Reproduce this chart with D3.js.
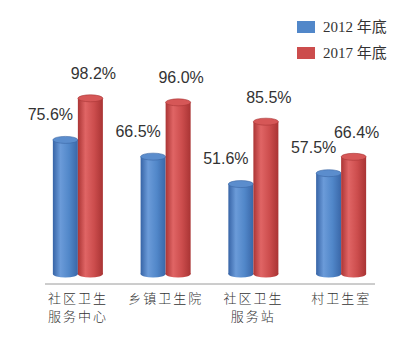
<!DOCTYPE html>
<html>
<head>
<meta charset="utf-8">
<script src="https://cdn.jsdelivr.net/npm/d3@7"></script>
<style>
  body { margin: 0; background: #fff; }
</style>
</head>
<body>
<div id="chart"></div>
<script>
const categories = ['社区卫生服务中心', '乡镇卫生院', '社区卫生服务站', '村卫生室']
const categoryLines = [['社区卫生', '服务中心'], ['乡镇卫生院'], ['社区卫生', '服务站'], ['村卫生室']]
const seriesNames = ['2012年底', '2017年底']
const values2012 = [75.6, 66.5, 51.6, 57.5]
const values2017 = [98.2, 96.0, 85.5, 66.4]

const W = 401
const H = 346

const svg = d3.select('#chart')
  .append('svg')
  .attr('width', W)
  .attr('height', H)

const defs = svg.append('defs')
const palette = {
  '2012年底': { stops: ['#3764a6', '#6b9bd9', '#5187c9', '#3a67a8'], top: '#5b8dcd', edge: '#3a66a5' },
  '2017年底': { stops: ['#ab3535', '#e06565', '#cc4d4d', '#a93434'], top: '#d65757', edge: '#a83636' }
}
seriesNames.forEach((s, i) => {
  const g = defs.append('linearGradient')
    .attr('id', 'grad' + i)
    .attr('x1', '0%').attr('x2', '100%').attr('y1', '0%').attr('y2', '0%')
  const offs = ['0%', '30%', '65%', '100%']
  palette[s].stops.forEach((c, j) => {
    g.append('stop').attr('offset', offs[j]).attr('stop-color', c)
  })
})

const x0 = d3.scaleBand()
  .domain(categories)
  .range([34, 385])
  .paddingInner(0.43)
  .paddingOuter(0.215)

const x1 = d3.scaleBand()
  .domain(seriesNames)
  .range([0, x0.bandwidth()])

const y = d3.scaleLinear()
  .domain([0, 100])
  .range([279, 95])

const base = y(0) - 5
const ry = 3.5

const data = categories.map((c, i) => ({
  cat: c,
  lines: categoryLines[i],
  vals: [
    { s: seriesNames[0], v: values2012[i], k: 0 },
    { s: seriesNames[1], v: values2017[i], k: 1 }
  ]
}))

// axis line
svg.append('line')
  .attr('x1', 45).attr('x2', 375)
  .attr('y1', 284).attr('y2', 284)
  .attr('stroke', '#9a9a9a')
  .attr('stroke-width', 1)

const groups = svg.selectAll('.grp')
  .data(data)
  .enter()
  .append('g')
  .attr('class', 'grp')
  .attr('transform', (d) => `translate(${x0(d.cat)},0)`)

const bars = groups.selectAll('.bar')
  .data((d) => d.vals)
  .enter()
  .append('g')
  .attr('class', 'bar')

const bw = x1.bandwidth()

bars.append('ellipse')
  .attr('cx', (d) => x1(d.s) + bw / 2)
  .attr('cy', base)
  .attr('rx', bw / 2)
  .attr('ry', ry)
  .attr('fill', (d) => `url(#grad${d.k})`)

bars.append('rect')
  .attr('x', (d) => x1(d.s))
  .attr('y', (d) => y(d.v))
  .attr('width', bw)
  .attr('height', (d) => base - y(d.v))
  .attr('fill', (d) => `url(#grad${d.k})`)

bars.append('ellipse')
  .attr('cx', (d) => x1(d.s) + bw / 2)
  .attr('cy', (d) => y(d.v))
  .attr('rx', bw / 2)
  .attr('ry', ry)
  .attr('fill', (d) => palette[d.s].top)
  .attr('stroke', (d) => palette[d.s].edge)
  .attr('stroke-width', 0.6)

bars.append('text')
  .attr('x', (d) => x1(d.s) + bw / 2 + (d.k === 0 ? -15 : 3))
  .attr('y', (d) => y(d.v) - (d.k === 0 ? 20 : 19))
  .attr('text-anchor', 'middle')
  .attr('font-family', 'Liberation Sans, Arial, sans-serif')
  .attr('font-size', 16)
  .attr('fill', '#333')
  .text((d) => d3.format('.1f')(d.v) + '%')

groups.each(function (d) {
  const g = d3.select(this)
  d.lines.forEach((l, i) => {
    g.append('text')
      .attr('x', x0.bandwidth() / 2)
      .attr('y', 303 + i * 18)
      .attr('text-anchor', 'middle')
      .attr('font-family', 'Noto Sans CJK SC, sans-serif')
      .attr('font-size', 13)
      .attr('font-weight', 300)
      .attr('letter-spacing', 2)
      .attr('fill', '#333')
      .text(l)
  })
})

// legend
const legend = svg.append('g')
  .selectAll('g')
  .data(seriesNames)
  .enter()
  .append('g')
  .attr('transform', (d, i) => `translate(297,${21 + i * 26})`)

legend.append('rect')
  .attr('width', 18)
  .attr('height', 12)
  .attr('fill', (d) => palette[d].stops[2])

legend.append('text')
  .attr('x', 26)
  .attr('y', 11)
  .attr('font-family', 'Liberation Serif, Noto Sans CJK SC, serif')
  .attr('font-size', 15)
  .attr('fill', '#333')
  .text((d) => d.replace('年', ' 年'))
</script>
</body>
</html>
